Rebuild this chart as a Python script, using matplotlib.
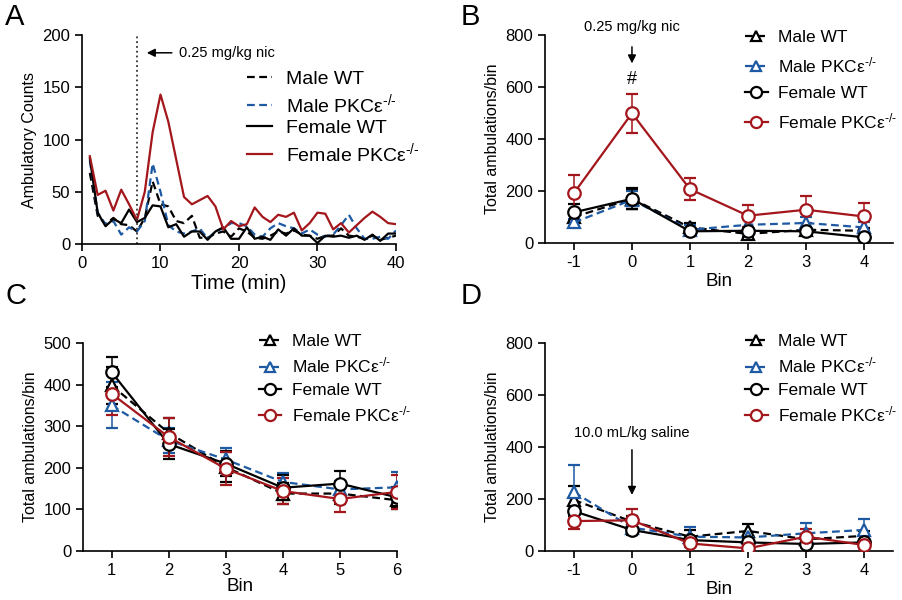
import matplotlib
matplotlib.use("Agg")
import matplotlib.pyplot as plt
from matplotlib.lines import Line2D
import numpy as np

plt.rcParams['font.family'] = ['Liberation Sans', 'DejaVu Sans']
plt.rcParams['mathtext.fontset'] = 'custom'
plt.rcParams['mathtext.rm'] = 'Liberation Sans'
plt.rcParams['mathtext.it'] = 'Liberation Sans'
plt.rcParams['axes.unicode_minus'] = False
plt.rcParams['axes.linewidth'] = 1.2
plt.rcParams['xtick.major.width'] = 1.2
plt.rcParams['ytick.major.width'] = 1.2
plt.rcParams['xtick.major.size'] = 5
plt.rcParams['ytick.major.size'] = 5

RED = '#a3161c'
BLUE = '#1d5aa3'
BLACK = '#000000'

KO = 'PKCε$^{\\mathregular{\u2010/\u2010}}$'
labels = ['Male WT', 'Male ' + KO, 'Female WT', 'Female ' + KO]

# ---------------- Panel A data ----------------
minutes = list(range(1, 41))
male_wt_A = [68, 27, 19, 25, 19, 18, 12, 25, 60, 38, 36, 22, 20, 27, 6, 6, 10, 12, 7, 15,
             12, 6, 5, 8, 12, 10, 13, 9, 8, 5, 8, 8, 15, 8, 7, 5, 8, 4, 6, 8]
male_ko_A = [80, 30, 19, 22, 9, 16, 12, 22, 77, 50, 18, 12, 10, 12, 15, 5, 12, 15, 20, 20,
             17, 9, 7, 15, 20, 17, 15, 10, 14, 9, 7, 9, 18, 28, 15, 5, 5, 7, 5, 13]
female_wt_A = [82, 30, 17, 24, 20, 33, 21, 25, 37, 36, 16, 19, 7, 12, 12, 4, 12, 16, 5, 5,
               16, 5, 7, 4, 14, 8, 15, 8, 8, 1, 8, 7, 8, 6, 8, 4, 9, 3, 10, 10]
female_ko_A = [84, 47, 51, 32, 52, 38, 23, 50, 107, 143, 117, 81, 45, 38, 42, 46, 36, 14, 22, 17,
               19, 35, 26, 21, 28, 26, 30, 13, 20, 30, 29, 14, 20, 11, 18, 25, 31, 26, 20, 19]

# ---------------- Panel B data ----------------
bins_B = [-1, 0, 1, 2, 3, 4]
male_wt_B = [100, 170, 60, 35, 51, 47]
male_wt_B_err = [20, 40, 15, 12, 12, 12]
male_ko_B = [79, 166, 51, 70, 77, 60]
male_ko_B_err = [12, 35, 20, 25, 22, 20]
female_wt_B = [118, 170, 45, 47, 45, 22]
female_wt_B_err = [32, 39, 10, 10, 10, 10]
female_ko_B = [192, 499, 207, 105, 128, 102]
female_ko_B_err = [70, 75, 43, 42, 51, 52]

# ---------------- Panel C data ----------------
bins_C = [1, 2, 3, 4, 5, 6]
male_wt_C = [398, 284, 202, 138, 138, 122]
male_wt_C_err = [45, 35, 35, 25, 25, 20]
male_ko_C = [350, 266, 220, 166, 148, 153]
male_ko_C_err = [55, 30, 28, 22, 20, 37]
female_wt_C = [430, 257, 210, 152, 162, 129]
female_wt_C_err = [36, 35, 30, 30, 30, 25]
female_ko_C = [378, 274, 198, 144, 125, 142]
female_ko_C_err = [52, 46, 40, 32, 32, 40]

# ---------------- Panel D data ----------------
bins_D = [-1, 0, 1, 2, 3, 4]
male_wt_D = [196, 113, 55, 77, 45, 58]
male_wt_D_err = [55, 20, 25, 28, 20, 20]
male_ko_D = [226, 90, 55, 52, 68, 81]
male_ko_D_err = [103, 20, 38, 20, 38, 41]
female_wt_D = [153, 81, 42, 33, 27, 33]
female_wt_D_err = [20, 20, 10, 10, 10, 10]
female_ko_D = [115, 118, 29, 10, 55, 23]
female_ko_D_err = [30, 42, 10, 10, 30, 10]

fig = plt.figure(figsize=(9.03, 6.0), dpi=100)

FS = 12
XL = 13.5
LEG = 12.5


def style(ax):
    for s in ['top', 'right']:
        ax.spines[s].set_visible(False)
    ax.tick_params(labelsize=FS, direction='out')


# ---------- A ----------
axA = fig.add_axes([0.0908, 0.5933, 0.3477, 0.3483])
style(axA)
axA.plot(minutes, male_wt_A, color=BLACK, ls=(0, (3.5, 2)), lw=1.6, label=labels[0])
axA.plot(minutes, male_ko_A, color=BLUE, ls=(0, (3.5, 2)), lw=1.6, label=labels[1])
axA.plot(minutes, female_wt_A, color=BLACK, lw=1.6, label=labels[2])
axA.plot(minutes, female_ko_A, color=RED, lw=1.6, label=labels[3])
axA.axvline(7, color='#333333', ls=':', lw=1.3)
axA.set_xlim(0, 40)
axA.set_ylim(0, 200)
axA.set_xticks([0, 10, 20, 30, 40])
axA.set_yticks([0, 50, 100, 150, 200])
axA.set_xlabel('Time (min)', fontsize=14.5, labelpad=2)
axA.set_ylabel('Ambulatory Counts', fontsize=11.5)
axA.annotate('', xy=(7.9, 183), xytext=(11.8, 183),
             arrowprops=dict(arrowstyle='-|>', color='black', lw=1.1, mutation_scale=12))
axA.text(12.4, 183, '0.25 mg/kg nic', fontsize=10.5, va='center', ha='left')
axA.legend(loc='upper left', bbox_to_anchor=(0.47, 0.915), frameon=False,
           fontsize=14, handlelength=1.3, labelspacing=0.2, handletextpad=0.7)


def group_plot(ax, x, series):
    specs = [
        (BLACK, (0, (3.5, 2)), '^'),
        (BLUE, (0, (3.5, 2)), '^'),
        (BLACK, '-', 'o'),
        (RED, '-', 'o'),
    ]
    handles = []
    for (y, e), (c, ls, m), lab in zip(series, specs, labels):
        ax.errorbar(x, y, yerr=e, color=c, ls=ls, lw=1.6, marker=m,
                    ms=8 if m == '^' else 9, mfc='white', mec=c, mew=1.6,
                    capsize=4, elinewidth=1.1, capthick=1.1, zorder=3)
        handles.append(Line2D([0], [0], color=c, ls=ls, lw=1.6, marker=m,
                              ms=7 if m == '^' else 8, mfc='white', mec=c, mew=1.6, label=lab))
    return handles


# ---------- B ----------
axB = fig.add_axes([0.6035, 0.595, 0.3854, 0.3467])
style(axB)
hB = group_plot(axB, bins_B, [(male_wt_B, male_wt_B_err), (male_ko_B, male_ko_B_err),
                              (female_wt_B, female_wt_B_err), (female_ko_B, female_ko_B_err)])
axB.set_xlim(-1.5, 4.5)
axB.set_ylim(0, 800)
axB.set_xticks(bins_B)
axB.set_yticks([0, 200, 400, 600, 800])
axB.set_xlabel('Bin', fontsize=XL, labelpad=2)
axB.set_ylabel('Total ambulations/bin', fontsize=11.5)
axB.text(0, 830, '0.25 mg/kg nic', fontsize=10.5, ha='center', va='center', clip_on=False)
axB.annotate('', xy=(0, 680), xytext=(0, 765),
             arrowprops=dict(arrowstyle='-|>', color='black', lw=1.1, mutation_scale=12),
             annotation_clip=False)
axB.text(0, 630, '#', fontsize=13, ha='center', va='center')
axB.legend(handles=hB, loc='upper left', bbox_to_anchor=(0.53, 1.10), frameon=False,
           fontsize=LEG, handlelength=1.3, labelspacing=0.6, handletextpad=0.6)

# ---------- C ----------
axC = fig.add_axes([0.0919, 0.0817, 0.3477, 0.3467])
style(axC)
hC = group_plot(axC, bins_C, [(male_wt_C, male_wt_C_err), (male_ko_C, male_ko_C_err),
                              (female_wt_C, female_wt_C_err), (female_ko_C, female_ko_C_err)])
axC.set_xlim(0.5, 6.0)
axC.set_ylim(0, 500)
axC.set_xticks(bins_C)
axC.set_yticks([0, 100, 200, 300, 400, 500])
axC.set_xlabel('Bin', fontsize=XL, labelpad=0)
axC.set_ylabel('Total ambulations/bin', fontsize=11.5)
axC.legend(handles=hC, loc='upper left', bbox_to_anchor=(0.51, 1.12), frameon=False,
           fontsize=LEG, handlelength=1.3, labelspacing=0.4, handletextpad=0.6)

# ---------- D ----------
axD = fig.add_axes([0.6035, 0.0817, 0.3854, 0.3467])
style(axD)
hD = group_plot(axD, bins_D, [(male_wt_D, male_wt_D_err), (male_ko_D, male_ko_D_err),
                              (female_wt_D, female_wt_D_err), (female_ko_D, female_ko_D_err)])
axD.set_xlim(-1.5, 4.5)
axD.set_ylim(0, 800)
axD.set_xticks(bins_D)
axD.set_yticks([0, 200, 400, 600, 800])
axD.set_xlabel('Bin', fontsize=XL, labelpad=2)
axD.set_ylabel('Total ambulations/bin', fontsize=11.5)
axD.text(0, 455, '10.0 mL/kg saline', fontsize=10.5, ha='center', va='center')
axD.annotate('', xy=(0, 205), xytext=(0, 400),
             arrowprops=dict(arrowstyle='-|>', color='black', lw=1.1, mutation_scale=12))
axD.legend(handles=hD, loc='upper left', bbox_to_anchor=(0.53, 1.12), frameon=False,
           fontsize=LEG, handlelength=1.3, labelspacing=0.4, handletextpad=0.6)

# panel letters
fig.text(0.006, 0.995, 'A', fontsize=21, va='top')
fig.text(0.51, 0.995, 'B', fontsize=21, va='top')
fig.text(0.006, 0.53, 'C', fontsize=21, va='top')
fig.text(0.51, 0.53, 'D', fontsize=21, va='top')

fig.savefig('out.png', dpi=100)
